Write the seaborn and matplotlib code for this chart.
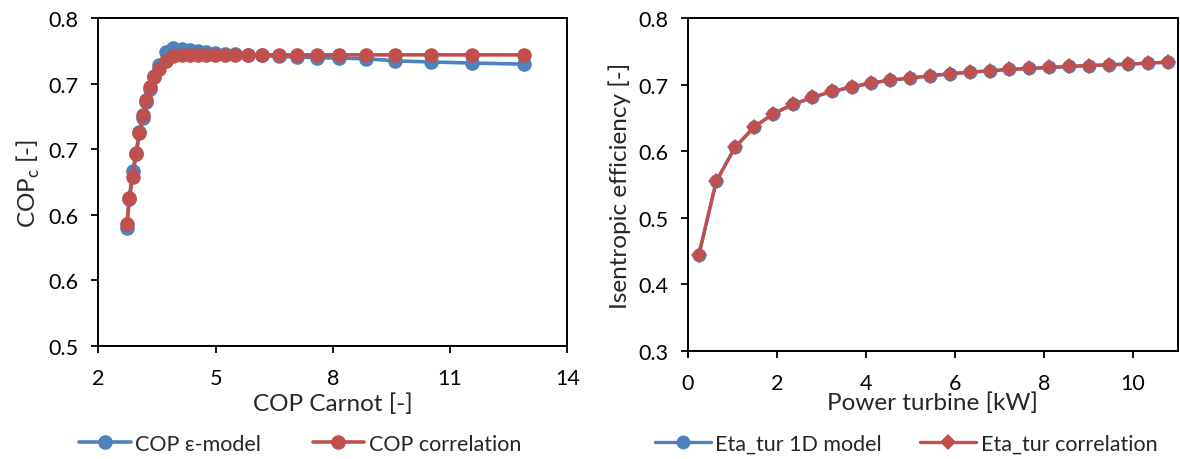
import numpy as np
import pandas as pd
import matplotlib
matplotlib.use("Agg")
import matplotlib.pyplot as plt
import seaborn as sns
from matplotlib.ticker import FormatStrFormatter

# ---------------- data ----------------
cop_carnot = [2.73, 2.79, 2.88, 2.97, 3.05, 3.14, 3.23, 3.32, 3.43, 3.56,
              3.72, 3.92, 4.13, 4.35, 4.55, 4.75, 4.99, 5.25, 5.50, 5.84,
              6.18, 6.62, 7.08, 7.60, 8.15, 8.84, 9.60, 10.51, 11.56, 12.88]
cop_eps_model = [0.6075, 0.634, 0.660, 0.677, 0.696, 0.709, 0.723, 0.735, 0.747, 0.757,
                 0.769, 0.7725, 0.772, 0.771, 0.770, 0.769, 0.768, 0.7675, 0.767, 0.7665,
                 0.766, 0.765, 0.7645, 0.764, 0.7635, 0.763, 0.761, 0.760, 0.759, 0.758]
cop_correlation = [0.6115, 0.635, 0.655, 0.676, 0.695, 0.711, 0.725, 0.737, 0.746, 0.754,
                   0.7606, 0.7657, 0.766, 0.7662, 0.7664, 0.7664, 0.7665, 0.7665, 0.7665, 0.7665,
                   0.7665, 0.7665, 0.7665, 0.7665, 0.7665, 0.7665, 0.7665, 0.7665, 0.7665, 0.7665]

power_turbine = [0.25, 0.64, 1.06, 1.49, 1.92, 2.36, 2.80, 3.23, 3.68, 4.11,
                 4.55, 4.99, 5.44, 5.89, 6.34, 6.79, 7.22, 7.67, 8.12, 8.57,
                 9.00, 9.45, 9.89, 10.33, 10.79]
eta_1d_model = [0.444, 0.5546, 0.6057, 0.6364, 0.6564, 0.6704, 0.6809, 0.6899, 0.6965, 0.7026,
                0.707, 0.710, 0.7135, 0.7165, 0.719, 0.721, 0.723, 0.7245, 0.726, 0.7275,
                0.729, 0.730, 0.731, 0.7326, 0.734]
eta_correlation = [0.444, 0.5546, 0.6057, 0.6364, 0.6564, 0.6704, 0.6809, 0.6899, 0.6965, 0.7026,
                   0.707, 0.710, 0.7135, 0.7165, 0.719, 0.721, 0.723, 0.7245, 0.726, 0.7275,
                   0.729, 0.730, 0.731, 0.7326, 0.734]

left_xticks = [2, 5, 8, 11, 14]
left_yticks = [0.5, 0.56, 0.62, 0.68, 0.74, 0.8]
right_xticks = [0, 2, 4, 6, 8, 10]
right_yticks = [0.3, 0.4, 0.5, 0.6, 0.7, 0.8]

BLUE = "#4F81BD"
RED = "#C0504D"

sns.set_theme(style="ticks")
plt.rcParams['font.family'] = ['Lato', 'DejaVu Sans']
plt.rcParams['mathtext.fontset'] = 'custom'
plt.rcParams['mathtext.rm'] = 'Lato'

fig = plt.figure(figsize=(11.8, 4.6), dpi=100)
fig.patch.set_facecolor("white")

ax1 = fig.add_axes([98.3 / 1180, 1 - 346.7 / 460, 469.0 / 1180, 327.4 / 460])
ax2 = fig.add_axes([687.7 / 1180, 1 - 351.7 / 460, 490.0 / 1180, 332.4 / 460])

TICK_FS = 15.5
LABEL_FS = 17.5
LEG_FS = 15.5

# left chart
sns.lineplot(x=cop_carnot, y=cop_eps_model, ax=ax1, color=BLUE, linewidth=2.6,
             marker='o', markersize=10.5, markeredgewidth=0, sort=False,
             label="COP ε-model")
sns.lineplot(x=cop_carnot, y=cop_correlation, ax=ax1, color=RED, linewidth=2.6,
             marker='o', markersize=10.5, markeredgewidth=0, sort=False,
             label="COP correlation")
ax1.set_xlim(2, 14)
ax1.set_ylim(0.5, 0.8)
ax1.set_xticks(left_xticks)
ax1.set_yticks(left_yticks)
ax1.yaxis.set_major_formatter(FormatStrFormatter('%.1f'))
ax1.set_xlabel("COP Carnot [-]", fontsize=LABEL_FS, labelpad=3)
ax1.set_ylabel(r"COP$_\mathregular{c}$ [-]", fontsize=LABEL_FS, labelpad=5)

# right chart
sns.lineplot(x=power_turbine, y=eta_1d_model, ax=ax2, color=BLUE, linewidth=2.4,
             marker='o', markersize=10, markeredgewidth=0, sort=False,
             label="Eta_tur 1D model")
sns.lineplot(x=power_turbine, y=eta_correlation, ax=ax2, color=RED, linewidth=2.4,
             marker='D', markersize=8.5, markeredgewidth=0, sort=False,
             label="Eta_tur correlation")
ax2.set_xlim(0, 11)
ax2.set_ylim(0.3, 0.8)
ax2.set_xticks(right_xticks)
ax2.set_yticks(right_yticks)
ax2.yaxis.set_major_formatter(FormatStrFormatter('%.1f'))
ax2.set_xlabel("Power turbine [kW]", fontsize=LABEL_FS, labelpad=-1)
ax2.set_ylabel("Isentropic efficiency [-]", fontsize=LABEL_FS, labelpad=5)

for ax in (ax1, ax2):
    ax.set_facecolor("white")
    for s in ax.spines.values():
        s.set_visible(True)
        s.set_color("black")
        s.set_linewidth(1.4)
    ax.tick_params(axis='both', direction='out', length=5, width=1.3,
                   color='black', labelsize=TICK_FS, labelcolor='black')
    ax.tick_params(axis='y', pad=9)
    ax.tick_params(axis='x', pad=11)
    ax.grid(False)

ax1.legend(loc='center', bbox_to_anchor=(300 / 1180, 1 - 445 / 460),
           bbox_transform=fig.transFigure, ncol=2, frameon=False,
           fontsize=LEG_FS, handlelength=2.4, handletextpad=0.2,
           columnspacing=2.4, borderaxespad=0)
ax2.legend(loc='center', bbox_to_anchor=(906 / 1180, 1 - 445 / 460),
           bbox_transform=fig.transFigure, ncol=2, frameon=False,
           fontsize=LEG_FS, handlelength=2.6, handletextpad=0.2,
           columnspacing=1.8, borderaxespad=0)

fig.savefig("out.png", dpi=100, facecolor="white")
